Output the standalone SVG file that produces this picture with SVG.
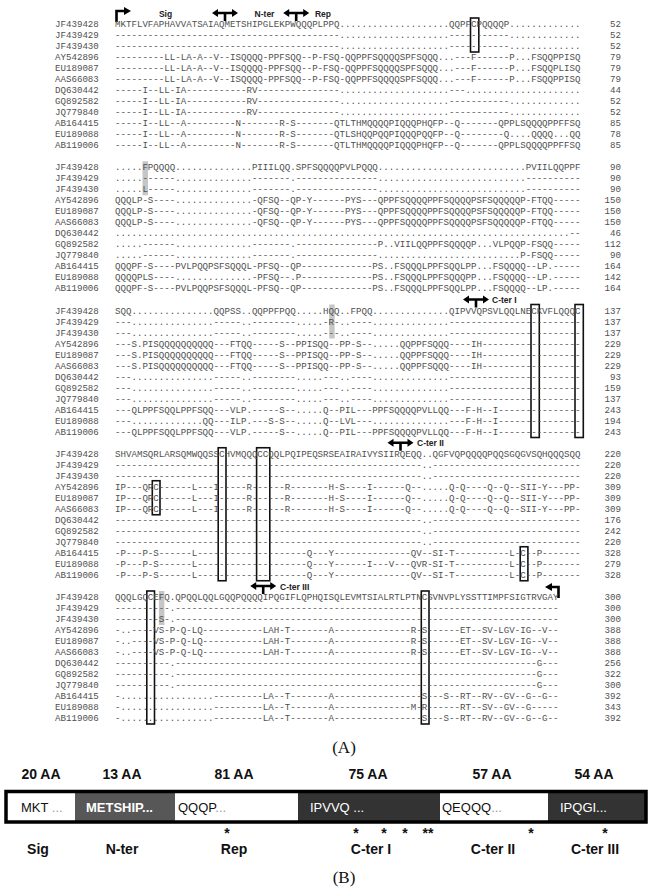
<svg xmlns="http://www.w3.org/2000/svg" width="649" height="888" viewBox="0 0 649 888">
<style>
.s{font-family:"Liberation Mono",monospace;font-size:9.15px;fill:#505050}
.n{font-family:"Liberation Mono",monospace;font-size:9.15px;fill:#505050;text-anchor:end}
.h{font-family:"Liberation Sans",Arial,sans-serif;font-weight:bold;font-size:8.5px;fill:#222}
.bx{fill:none;stroke:#111;stroke-width:1.6}
.gr{fill:#c6c6c6}
.b{font-family:"Liberation Sans",Arial,sans-serif;font-weight:bold;font-size:14px;fill:#111;text-anchor:middle}
.t{font-family:"Liberation Sans",Arial,sans-serif;font-size:13px}
.cap{font-family:"Liberation Serif","Times New Roman",serif;font-size:17px;fill:#111;text-anchor:middle}
</style>
<defs>
<g id="da"><path d="M-8 0H8M0 0V8" stroke="#000" stroke-width="2.6" fill="none"/><path d="M-7 -4L-13 0L-7 4ZM7 -4L13 0L7 4Z" fill="#000"/></g>
</defs>
<rect width="649" height="888" fill="#fff"/>

<g id="block1" transform="translate(0,27)">
<rect class="bx" x="470.5" y="-9" width="8.3" height="34"/>
<path d="M116.5 -5V-16H125" stroke="#000" stroke-width="2.6" fill="none"/><path d="M124 -20L131 -16L124 -12Z" fill="#000"/>
<use href="#da" x="225" y="-14"/><use href="#da" x="296.2" y="-14"/>
<text class="h" x="165.5" y="-10.5" text-anchor="middle">Sig</text>
<text class="h" x="264.5" y="-10.5" text-anchor="middle">N-ter</text>
<text class="h" x="323" y="-10.5" text-anchor="middle">Rep</text>
<text class="s" x="55" y="0">JF439428</text><text class="s" x="115" y="0">MKTFLVFAPHAVVATSAIAQMETSHIPGLEKPWQQQPLPPQ....................QQPFCPQQQQP.............</text><text class="n" x="621" y="0">52</text>
<text class="s" x="55" y="11">JF439429</text><text class="s" x="115" y="11">-----------------------------------------....................-----------.............</text><text class="n" x="621" y="11">52</text>
<text class="s" x="55" y="22">JF439430</text><text class="s" x="115" y="22">-----------------------------------------....................-----------.............</text><text class="n" x="621" y="22">52</text>
<text class="s" x="55" y="33">AY542896</text><text class="s" x="115" y="33">---------LL-LA-A--V--ISQQQQ-PPFSQQ--P-FSQ-QQPPFSQQQQSPFSQQQ...---F------P...FSQQPPISQ</text><text class="n" x="621" y="33">79</text>
<text class="s" x="55" y="44">EU189087</text><text class="s" x="115" y="44">---------LL-LA-A--V--ISQQQQ-PPFSQQ--P-FSQ-QQPPFSQQQQSPFSQQQ...---F------P...FSQQPLISQ</text><text class="n" x="621" y="44">79</text>
<text class="s" x="55" y="55">AAS66083</text><text class="s" x="115" y="55">---------LL-LA-A--V--ISQQQQ-PPFSQQ--P-FSQ-QQPPFSQQQQSPFSQQQ...---F------P...FSQQPPISQ</text><text class="n" x="621" y="55">79</text>
<text class="s" x="55" y="66">DQ630442</text><text class="s" x="115" y="66">-----I--LL-IA-----------RV---------------....................---.....................</text><text class="n" x="621" y="66">44</text>
<text class="s" x="55" y="77">GQ892582</text><text class="s" x="115" y="77">-----I--LL-IA-----------RV---------------....................-----------.............</text><text class="n" x="621" y="77">52</text>
<text class="s" x="55" y="88">JQ779840</text><text class="s" x="115" y="88">-----I--LL-IA-----------RV---------------....................-----------.............</text><text class="n" x="621" y="88">52</text>
<text class="s" x="55" y="99">AB164415</text><text class="s" x="115" y="99">-----I--LL--A---------N-------R-S-------QTLTHMQQQQPIQQQPHQFP--Q-------QPPLSQQQQPPFFSQ</text><text class="n" x="621" y="99">85</text>
<text class="s" x="55" y="110">EU189088</text><text class="s" x="115" y="110">-----I--LL--A---------N-------R-S-------QTLSHQQPQQPIQQQPQQFP--Q--------Q....QQQQ...QQ</text><text class="n" x="621" y="110">78</text>
<text class="s" x="55" y="121">AB119006</text><text class="s" x="115" y="121">-----I--LL--A---------N-------R-S-------QTLTHMQQQQPIQQQPHQFP--Q-------QPPLSQQQQPPFFSQ</text><text class="n" x="621" y="121">85</text>
</g>

<g id="block2" transform="translate(0,170.25)">
<rect class="gr" x="142.5" y="-9" width="5.5" height="34"/>
<text class="s" x="55" y="0">JF439428</text><text class="s" x="115" y="0">.....FPQQQQ..............PIIILQQ.SPFSQQQQPVLPQQQ...........................PVIILQQPPF</text><text class="n" x="621" y="0">90</text>
<text class="s" x="55" y="11">JF439429</text><text class="s" x="115" y="11">.....------..............-------.---------------...........................----------</text><text class="n" x="621" y="11">90</text>
<text class="s" x="55" y="22">JF439430</text><text class="s" x="115" y="22">.....L-----..............-------.---------------...........................----------</text><text class="n" x="621" y="22">90</text>
<text class="s" x="55" y="33">AY542896</text><text class="s" x="115" y="33">QQQLP-S----..............-QFSQ--QP-Y------PYS---QPPFSQQQQPPFSQQQQPSFSQQQQQP-FTQQ-----</text><text class="n" x="621" y="33">150</text>
<text class="s" x="55" y="44">EU189087</text><text class="s" x="115" y="44">QQQLP-S----..............-QFSQ--QP-Y------PYS---QPPFSQQQQPPFSQQQQPSFSQQQQQP-FTQQ-----</text><text class="n" x="621" y="44">150</text>
<text class="s" x="55" y="55">AAS66083</text><text class="s" x="115" y="55">QQQLP-S----..............-QFSQ--QP-Y------PYS---QPPFSQQQQPPFSQQQQPSFSQQQQQP-FTQQ-----</text><text class="n" x="621" y="55">150</text>
<text class="s" x="55" y="66">DQ630442</text><text class="s" x="115" y="66">...................................................................................--</text><text class="n" x="621" y="66">46</text>
<text class="s" x="55" y="77">GQ892582</text><text class="s" x="115" y="77">.....------..............-------.---------------P..VIILQQPPFSQQQQP...VLPQQP-FSQQ-----</text><text class="n" x="621" y="77">112</text>
<text class="s" x="55" y="88">JQ779840</text><text class="s" x="115" y="88">.....------..............-------.---------------..........................P-FSQQ-----</text><text class="n" x="621" y="88">90</text>
<text class="s" x="55" y="99">AB164415</text><text class="s" x="115" y="99">QQQPF-S----PVLPQQPSFSQQQL-PFSQ--QP-------------PS..FSQQQLPPFSQQLPP...FSQQQQ--LP.-----</text><text class="n" x="621" y="99">164</text>
<text class="s" x="55" y="110">EU189088</text><text class="s" x="115" y="110">QQQQPLS----..............-PFSQ--.P-------------PS..FSQQQLPPFSQQQPP...FSQQQQ--LP.-----</text><text class="n" x="621" y="110">142</text>
<text class="s" x="55" y="121">AB119006</text><text class="s" x="115" y="121">QQQPF-S----PVLPQQPSFSQQQL-PFSQ--QP-------------PS..FSQQQLPPFSQQLPP...FSQQQQ--LP.-----</text><text class="n" x="621" y="121">164</text>
</g>

<g id="block3" transform="translate(0,313.5)">
<rect class="gr" x="329.2" y="-9" width="5.5" height="34"/>
<rect class="bx" x="531" y="-9" width="8.3" height="133"/>
<rect class="bx" x="575" y="-9" width="8.3" height="133"/>
<use href="#da" x="476" y="-14"/>
<text class="h" x="492" y="-10.5">C-ter I</text>
<text class="s" x="55" y="0">JF439428</text><text class="s" x="115" y="0">SQQ...............QQPSS..QQPPFPQQ.....HQQ..FPQQ..............QIPVVQPSVLQQLNECKVFLQQQC</text><text class="n" x="621" y="0">137</text>
<text class="s" x="55" y="11">JF439429</text><text class="s" x="115" y="11">---...............-----..--------.....-R-..----..............------------------------</text><text class="n" x="621" y="11">137</text>
<text class="s" x="55" y="22">JF439430</text><text class="s" x="115" y="22">---...............-----..--------.....---..----..............------------------------</text><text class="n" x="621" y="22">137</text>
<text class="s" x="55" y="33">AY542896</text><text class="s" x="115" y="33">---S.PISQQQQQQQQQQ---FTQQ-----S--PPISQQ--PP-S--.....QQPPFSQQQ----IH------------------</text><text class="n" x="621" y="33">229</text>
<text class="s" x="55" y="44">EU189087</text><text class="s" x="115" y="44">---S.PISQQQQQQQQQQ---FTQQ-----S--PPISQQ--PP-S--.....QQPPFSQQQ----IH------------------</text><text class="n" x="621" y="44">229</text>
<text class="s" x="55" y="55">AAS66083</text><text class="s" x="115" y="55">---S.PISQQQQQQQQQQ---FTQQ-----S--PPISQQ--PP-S--.....QQPPFSQQQ----IH------------------</text><text class="n" x="621" y="55">229</text>
<text class="s" x="55" y="66">DQ630442</text><text class="s" x="115" y="66">---...............-----..--------.....---..----..............------------------------</text><text class="n" x="621" y="66">93</text>
<text class="s" x="55" y="77">GQ892582</text><text class="s" x="115" y="77">---...............-----..--------.....---..----..............------------------------</text><text class="n" x="621" y="77">159</text>
<text class="s" x="55" y="88">JQ779840</text><text class="s" x="115" y="88">---...............-----..--------.....---..----..............------------------------</text><text class="n" x="621" y="88">137</text>
<text class="s" x="55" y="99">AB164415</text><text class="s" x="115" y="99">---QLPPFSQQLPPFSQQ---VLP.-----S--.....Q--PIL---PPFSQQQQPVLLQQ---F-H--I---------------</text><text class="n" x="621" y="99">243</text>
<text class="s" x="55" y="110">EU189088</text><text class="s" x="115" y="110">---.............QQ---ILP.---S-S--.....Q--LVL---..............---F-H--I---------------</text><text class="n" x="621" y="110">194</text>
<text class="s" x="55" y="121">AB119006</text><text class="s" x="115" y="121">---QLPPFSQQLPPFSQQ---VLP.-----S--.....Q--PIL---PPFSQQQQPVLLQQ---F-H--I---------------</text><text class="n" x="621" y="121">243</text>
</g>

<g id="block4" transform="translate(0,456.75)">
<rect class="bx" x="218.2" y="-9" width="7.8" height="133"/>
<rect class="bx" x="256.6" y="-9" width="13.2" height="133"/>
<rect class="bx" x="152.3" y="24" width="7.7" height="34"/>
<rect class="bx" x="520.2" y="90" width="7.7" height="34"/>
<use href="#da" x="400.5" y="-14"/>
<text class="h" x="417" y="-10.5">C-ter II</text>
<text class="s" x="55" y="0">JF439428</text><text class="s" x="115" y="0">SHVAMSQRLARSQMWQQSSCHVMQQQCCQQLPQIPEQSRSEAIRAIVYSIIRQEQQ..QGFVQPQQQQPQQSGQGVSQHQQQSQQ</text><text class="n" x="621" y="0">220</text>
<text class="s" x="55" y="11">JF439429</text><text class="s" x="115" y="11">--------------------------------------------------------..---------------------------</text><text class="n" x="621" y="11">220</text>
<text class="s" x="55" y="22">JF439430</text><text class="s" x="115" y="22">--------------------------------------------------------..---------------------------</text><text class="n" x="621" y="22">220</text>
<text class="s" x="55" y="33">AY542896</text><text class="s" x="115" y="33">IP---QRC------L---I-----R------R-------H-S----I------Q--.....Q-Q----Q--Q--SII-Y---PP-</text><text class="n" x="621" y="33">309</text>
<text class="s" x="55" y="44">EU189087</text><text class="s" x="115" y="44">IP---QRC------L---I-----R------R-------H-S----I------Q--.....Q-Q----Q--Q--SII-Y---PP-</text><text class="n" x="621" y="44">309</text>
<text class="s" x="55" y="55">AAS66083</text><text class="s" x="115" y="55">IP---QRC------L---I-----R------R-------H-S----I------Q--.....Q-Q----Q--Q--SII-Y---PP-</text><text class="n" x="621" y="55">309</text>
<text class="s" x="55" y="66">DQ630442</text><text class="s" x="115" y="66">--------------------------------------------------------..---------------------------</text><text class="n" x="621" y="66">176</text>
<text class="s" x="55" y="77">GQ892582</text><text class="s" x="115" y="77">--------------------------------------------------------..---------------------------</text><text class="n" x="621" y="77">242</text>
<text class="s" x="55" y="88">JQ779840</text><text class="s" x="115" y="88">--------------------------------------------------------..---------------------------</text><text class="n" x="621" y="88">220</text>
<text class="s" x="55" y="99">AB164415</text><text class="s" x="115" y="99">-P---P-S------L--------------------Q---Y--------------QV--SI-T----------L-C--P-------</text><text class="n" x="621" y="99">328</text>
<text class="s" x="55" y="110">EU189088</text><text class="s" x="115" y="110">-P---P-S------L--------------------Q---Y------I---V---QVR-SI-T----------L-C--P-------</text><text class="n" x="621" y="110">279</text>
<text class="s" x="55" y="121">AB119006</text><text class="s" x="115" y="121">-P---P-S------L--------------------Q---Y--------------QV--SI-T----------L-C--P-------</text><text class="n" x="621" y="121">328</text>
</g>

<g id="block5" transform="translate(0,600)">
<rect class="gr" x="158.9" y="-9" width="5.5" height="34"/>
<rect class="bx" x="146.8" y="-9" width="7.7" height="133"/>
<rect class="bx" x="421.3" y="-9" width="7.7" height="133"/>
<use href="#da" x="263.2" y="-14"/>
<text class="h" x="280" y="-10.5">C-ter III</text>
<path d="M558.5 -2V-13H551" stroke="#000" stroke-width="2.6" fill="none"/><path d="M552 -17L545 -13L552 -9Z" fill="#000"/>
<text class="s" x="55" y="0">JF439428</text><text class="s" x="115" y="0">QQQLGQCEFQ.QPQQLQQLGQQPQQQQIPQGIFLQPHQISQLEVMTSIALRTLPTNCSVNVPLYSSTTIMPFSIGTRVGAY</text><text class="n" x="621" y="0">300</text>
<text class="s" x="55" y="11">JF439429</text><text class="s" x="115" y="11">----------.----------------------------------------------------------------------</text><text class="n" x="621" y="11">300</text>
<text class="s" x="55" y="22">JF439430</text><text class="s" x="115" y="22">--------S-.----------------------------------------------------------------------</text><text class="n" x="621" y="22">300</text>
<text class="s" x="55" y="33">AY542896</text><text class="s" x="115" y="33">-..----VS-P-Q-LQ-----------LAH-T-------A--------------R-S------ET--SV-LGV-IG--V--</text><text class="n" x="621" y="33">388</text>
<text class="s" x="55" y="44">EU189087</text><text class="s" x="115" y="44">-..----VS-P-Q-LQ-----------LAH-T-------A--------------R-S------ET--SV-LGV-IG--V--</text><text class="n" x="621" y="44">388</text>
<text class="s" x="55" y="55">AAS66083</text><text class="s" x="115" y="55">-..----VS-P-Q-LQ-----------LAH-T-------A--------------R-S------ET--SV-LGV-IG--V--</text><text class="n" x="621" y="55">388</text>
<text class="s" x="55" y="66">DQ630442</text><text class="s" x="115" y="66">----------.------------------------------------------------------------------G---</text><text class="n" x="621" y="66">256</text>
<text class="s" x="55" y="77">GQ892582</text><text class="s" x="115" y="77">----------.------------------------------------------------------------------G---</text><text class="n" x="621" y="77">322</text>
<text class="s" x="55" y="88">JQ779840</text><text class="s" x="115" y="88">----------.------------------------------------------------------------------G---</text><text class="n" x="621" y="88">300</text>
<text class="s" x="55" y="99">AB164415</text><text class="s" x="115" y="99">-.................---------LA--T-------A----------------S---S--RT--RV--GV--G--G--</text><text class="n" x="621" y="99">392</text>
<text class="s" x="55" y="110">EU189088</text><text class="s" x="115" y="110">-.................---------LA--T-------A--------------M-R------RT--SV--GV--G-----</text><text class="n" x="621" y="110">343</text>
<text class="s" x="55" y="121">AB119006</text><text class="s" x="115" y="121">-.................---------LA--T-------A----------------S---S--RT--RV--GV--G--G--</text><text class="n" x="621" y="121">392</text>
</g>

<text class="cap" x="344" y="753">(A)</text>

<g id="partB">
<rect x="6" y="791.5" width="640" height="30.5" fill="#fff"/>
<rect x="75" y="791.5" width="100" height="30.5" fill="#575757"/>
<rect x="298" y="791.5" width="142" height="30.5" fill="#333"/>
<rect x="548" y="791.5" width="98" height="30.5" fill="#333"/>
<rect x="6" y="791.5" width="640" height="30.5" fill="none" stroke="#000" stroke-width="3.5"/>
<text class="t" x="21" y="812" fill="#111">MKT <tspan fill="#999">...</tspan></text>
<text class="t" x="86" y="812" fill="#fff" font-weight="bold">METSHIP...</text>
<text class="t" x="178" y="812" fill="#111">QQQP<tspan fill="#999">...</tspan></text>
<text class="t" x="310" y="812" fill="#fff">IPVVQ ...</text>
<text class="t" x="442" y="812" fill="#111">QEQQQ<tspan fill="#999">...</tspan></text>
<text class="t" x="560" y="812" fill="#fff">IPQGI...</text>
<text class="b" x="41" y="779">20 AA</text>
<text class="b" x="122" y="779">13 AA</text>
<text class="b" x="234" y="779">81 AA</text>
<text class="b" x="368" y="779">75 AA</text>
<text class="b" x="492" y="779">57 AA</text>
<text class="b" x="594" y="779">54 AA</text>
<text class="b" x="227" y="838">*</text>
<text class="b" x="356" y="838">*</text>
<text class="b" x="384" y="838">*</text>
<text class="b" x="405" y="838">*</text>
<text class="b" x="428" y="838">**</text>
<text class="b" x="531" y="838">*</text>
<text class="b" x="605" y="838">*</text>
<text class="b" x="38" y="854">Sig</text>
<text class="b" x="122" y="854">N-ter</text>
<text class="b" x="234" y="854">Rep</text>
<text class="b" x="371" y="854">C-ter I</text>
<text class="b" x="493" y="854">C-ter II</text>
<text class="b" x="595" y="854">C-ter III</text>
</g>
<text class="cap" x="344" y="883">(B)</text>
</svg>
